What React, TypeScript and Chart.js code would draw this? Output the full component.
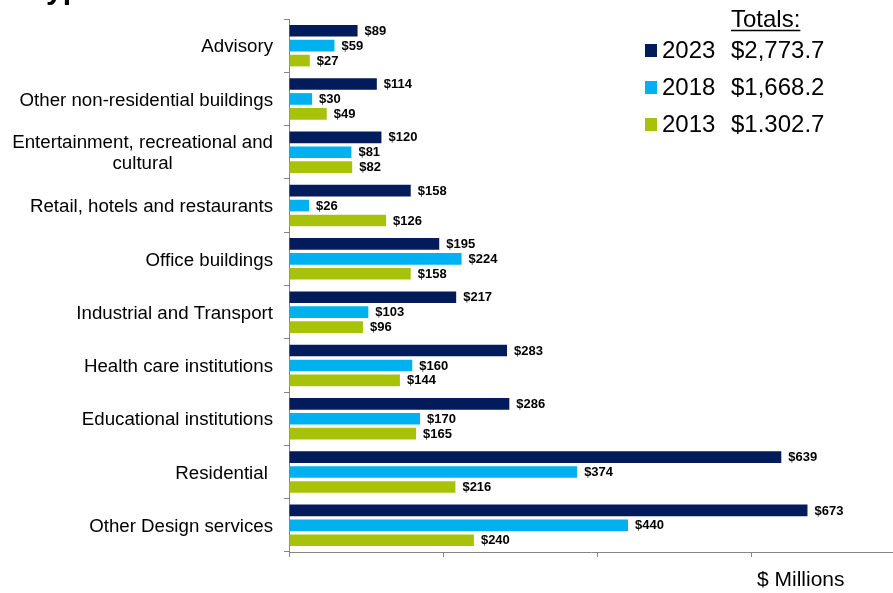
import React, { useEffect, useRef } from "react";
import { Chart, registerables } from "chart.js";

Chart.register(...registerables);

// Design services fees by project type ($ millions)
const categories: (string | string[])[] = [
  "Advisory",
  "Other non-residential buildings",
  ["Entertainment, recreational and", "cultural"],
  "Retail, hotels and restaurants",
  "Office buildings",
  "Industrial and Transport",
  "Health care institutions",
  "Educational institutions",
  "Residential ",
  "Other Design services",
];

const values2023 = [89, 114, 120, 158, 195, 217, 283, 286, 639, 673];
const values2018 = [59, 30, 81, 26, 224, 103, 160, 170, 374, 440];
const values2013 = [27, 49, 82, 126, 158, 96, 144, 165, 216, 240];

const seriesYears = ["2023", "2018", "2013"];
const seriesTotals = ["$2,773.7", "$1,668.2", "$1.302.7"];
const seriesColors = ["#021B5B", "#00B0F0", "#A8C20A"];

const xTicks = [0, 200, 400, 600];

const FONT = '"Liberation Sans", Arial, sans-serif';
const AXIS_GREY = "#868686";

const overlayPlugin = {
  id: "overlay",
  afterDatasetsDraw(chart: any) {
    const ctx = chart.ctx;
    ctx.save();
    ctx.font = `bold 13px ${FONT}`;
    ctx.fillStyle = "#000";
    ctx.textAlign = "left";
    ctx.textBaseline = "middle";
    chart.data.datasets.forEach((ds: any, di: number) => {
      const meta = chart.getDatasetMeta(di);
      meta.data.forEach((bar: any, i: number) => {
        ctx.fillText(`$${ds.data[i]}`, bar.x + 7, bar.y + 0.5);
      });
    });
    ctx.restore();
  },
  afterDraw(chart: any) {
    const ctx = chart.ctx;
    const yScale = chart.scales.y;
    ctx.save();

    // category labels, right edge next to the axis
    const labelRight = 273;
    const size = 18.7;
    ctx.font = `${size}px ${FONT}`;
    ctx.fillStyle = "#000";
    ctx.textBaseline = "alphabetic";
    categories.forEach((cat, i) => {
      const cy = yScale.getPixelForTick(i);
      const lines = Array.isArray(cat) ? cat : [cat];
      const lineH = 21;
      const maxW = Math.max(...lines.map((l) => ctx.measureText(l).width));
      const startY = cy - ((lines.length - 1) * lineH) / 2 + size * 0.36;
      lines.forEach((line, li) => {
        const y = startY + li * lineH;
        if (lines.length > 1) {
          ctx.textAlign = "center";
          ctx.fillText(line, labelRight - maxW / 2, y);
        } else {
          ctx.textAlign = "right";
          ctx.fillText(line, labelRight, y);
        }
      });
    });

    // heading (runs off the top edge)
    ctx.font = `bold 30px ${FONT}`;
    ctx.textAlign = "left";
    ctx.fillText("Type", 30, -1.5);

    // legend with totals
    ctx.font = `24px ${FONT}`;
    ctx.fillText("Totals:", 731, 27);
    const tw = ctx.measureText("Totals:").width;
    ctx.strokeStyle = "#000";
    ctx.lineWidth = 1.5;
    ctx.beginPath();
    ctx.moveTo(731, 30.5);
    ctx.lineTo(731 + tw, 30.5);
    ctx.stroke();

    seriesYears.forEach((yr, i) => {
      const base = 58 + i * 37;
      ctx.fillStyle = seriesColors[i];
      ctx.fillRect(645, base - 14, 12, 13);
      ctx.fillStyle = "#000";
      ctx.fillText(yr, 662, base);
      ctx.fillText(seriesTotals[i], 731, base);
    });

    // axis unit
    ctx.font = `21px ${FONT}`;
    ctx.fillText("$ Millions", 757, 586);

    ctx.restore();
  },
};

export default function App() {
  const canvasRef = useRef<HTMLCanvasElement | null>(null);

  useEffect(() => {
    document.body.style.margin = "0";
    document.body.style.overflow = "hidden";
    const canvas = canvasRef.current;
    if (!canvas) return;

    const datasets = [values2023, values2018, values2013].map((vals, i) => ({
      label: seriesYears[i],
      data: vals,
      backgroundColor: seriesColors[i],
      borderWidth: 0,
      categoryPercentage: 0.84,
      barPercentage: 0.78,
    }));

    const chart = new Chart(canvas, {
      type: "bar",
      data: {
        labels: categories.map((c) => (Array.isArray(c) ? c.join(" ") : c)),
        datasets,
      },
      options: {
        indexAxis: "y",
        responsive: false,
        animation: false,
        devicePixelRatio: 1,
        layout: { padding: { top: 19, left: 0, right: 0, bottom: 0 } },
        plugins: {
          legend: { display: false },
          tooltip: { enabled: false },
          title: { display: false },
        },
        scales: {
          x: {
            type: "linear",
            min: 0,
            max: 784,
            afterBuildTicks: (scale: any) => {
              scale.ticks = xTicks.map((v) => ({ value: v }));
            },
            afterFit: (scale: any) => {
              scale.height = 41;
            },
            ticks: { display: false },
            grid: {
              drawOnChartArea: false,
              drawTicks: true,
              tickLength: 5,
              color: AXIS_GREY,
            },
            border: { display: true, color: AXIS_GREY, width: 1 },
          },
          y: {
            type: "category",
            afterFit: (scale: any) => {
              scale.width = 289;
            },
            ticks: { display: false },
            grid: {
              offset: true,
              drawOnChartArea: false,
              drawTicks: true,
              tickLength: 5,
              color: AXIS_GREY,
            },
            border: { display: true, color: AXIS_GREY, width: 1 },
          },
        },
      },
      plugins: [overlayPlugin],
    } as any);

    return () => chart.destroy();
  }, []);

  return (
    <canvas
      ref={canvasRef}
      width={893}
      height={593}
      style={{ display: "block", width: 893, height: 593 }}
    />
  );
}
